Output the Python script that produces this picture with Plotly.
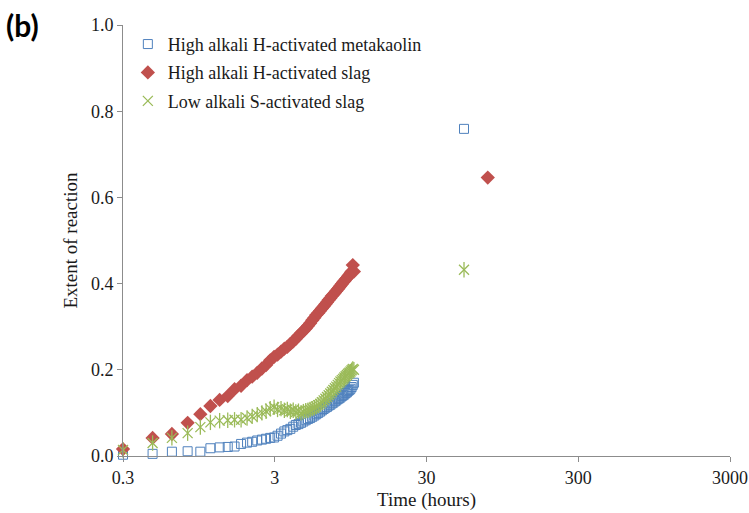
import plotly.graph_objects as go

# Time (hours) for the early-age series (readings every ~10 minutes)
early_hours = [0.30, 0.47, 0.63, 0.80, 0.97, 1.13, 1.30, 1.47, 1.63, 1.80,
               1.97, 2.13, 2.30, 2.47, 2.63, 2.80, 2.97, 3.13, 3.30, 3.47,
               3.63, 3.80, 3.97, 4.13, 4.30, 4.47, 4.63, 4.80, 4.97, 5.13,
               5.30, 5.47, 5.63, 5.80, 5.97, 6.13, 6.30, 6.47, 6.63, 6.80,
               6.97, 7.13, 7.30, 7.47, 7.63, 7.80, 7.97, 8.13, 8.30, 8.47,
               8.63, 8.80, 8.97, 9.13, 9.30, 9.47, 9.63, 9.80, 9.97]

metakaolin_early = [0.003, 0.005, 0.010, 0.011, 0.010, 0.018, 0.020, 0.021, 0.022, 0.028,
                    0.031, 0.033, 0.036, 0.038, 0.040, 0.042, 0.043, 0.047, 0.052, 0.057,
                    0.060, 0.063, 0.068, 0.072, 0.074, 0.077, 0.080, 0.083, 0.086, 0.088,
                    0.091, 0.094, 0.097, 0.100, 0.103, 0.106, 0.109, 0.112, 0.114, 0.117,
                    0.119, 0.122, 0.124, 0.127, 0.129, 0.132, 0.134, 0.136, 0.139, 0.141,
                    0.143, 0.146, 0.148, 0.151, 0.153, 0.156, 0.160, 0.165, 0.170]

h_slag_early = [0.016, 0.042, 0.051, 0.077, 0.097, 0.116, 0.130, 0.139, 0.155, 0.163,
                0.176, 0.184, 0.193, 0.203, 0.211, 0.222, 0.230, 0.235, 0.242, 0.249,
                0.253, 0.260, 0.266, 0.272, 0.279, 0.285, 0.290, 0.296, 0.302, 0.308,
                0.315, 0.321, 0.327, 0.332, 0.337, 0.342, 0.347, 0.352, 0.357, 0.362,
                0.366, 0.371, 0.375, 0.379, 0.383, 0.387, 0.391, 0.395, 0.399, 0.403,
                0.406, 0.410, 0.413, 0.417, 0.420, 0.424, 0.428, 0.443, 0.428]

s_slag_early = [0.014, 0.030, 0.042, 0.053, 0.067, 0.078, 0.082, 0.083, 0.084, 0.084,
                0.088, 0.092, 0.096, 0.100, 0.104, 0.110, 0.113, 0.108, 0.110, 0.106,
                0.108, 0.104, 0.106, 0.102, 0.104, 0.100, 0.103, 0.105, 0.106, 0.108,
                0.110, 0.112, 0.115, 0.118, 0.121, 0.125, 0.129, 0.133, 0.137, 0.141,
                0.145, 0.149, 0.153, 0.157, 0.161, 0.165, 0.169, 0.173, 0.176, 0.179,
                0.182, 0.185, 0.188, 0.191, 0.193, 0.196, 0.199, 0.202, 0.200]

# Later-age single readings
metakaolin_late_hours = [53, 3000]
metakaolin_late = [0.759, 1.0]
h_slag_late_hours = [76, 3000]
h_slag_late = [0.646, 1.0]
s_slag_late_hours = [53, 3000]
s_slag_late = [0.432, 1.0]

x_tick_vals = [0.3, 3, 30, 300, 3000]
x_tick_text = ["0.3", "3", "30", "300", "3000"]
y_tick_vals = [0.0, 0.2, 0.4, 0.6, 0.8, 1.0]

names = ["High alkali H-activated metakaolin",
         "High alkali H-activated slag",
         "Low alkali S-activated slag"]

BLUE = "#4F81BD"
RED = "#C0504D"
GREEN = "#9BBB59"
AXIS = "#8C8C8C"
FONT = "Liberation Serif"

fig = go.Figure()

fig.add_trace(go.Scatter(
    x=early_hours + metakaolin_late_hours, y=metakaolin_early + metakaolin_late,
    mode="markers", name=names[0], legendgroup="a",
    marker=dict(symbol="square-open", size=9, color=BLUE, line=dict(width=1, color=BLUE)),
    cliponaxis=False))

fig.add_trace(go.Scatter(
    x=early_hours + h_slag_late_hours, y=h_slag_early + h_slag_late,
    mode="markers", name=names[1], legendgroup="b",
    marker=dict(symbol="diamond", size=11, color=RED, line=dict(width=0)),
    cliponaxis=False))

fig.add_trace(go.Scatter(
    x=early_hours + s_slag_late_hours, y=s_slag_early + s_slag_late,
    mode="markers", name=names[2], legendgroup="c",
    marker=dict(symbol="x-thin-open", size=10, color=GREEN, line=dict(width=1.3, color=GREEN)),
    cliponaxis=False))

fig.add_trace(go.Scatter(
    x=early_hours + s_slag_late_hours, y=s_slag_early + s_slag_late,
    mode="markers", name=names[2], legendgroup="c", showlegend=False,
    marker=dict(symbol="line-ns-open", size=11, color=GREEN, line=dict(width=1.3, color=GREEN)),
    cliponaxis=False))

fig.update_layout(
    width=749, height=513,
    margin=dict(l=123, r=19, t=25, b=57),
    paper_bgcolor="white", plot_bgcolor="white",
    font=dict(family=FONT, size=18, color="#1a1a1a"),
    showlegend=True,
    legend=dict(x=0.008, y=0.998, xanchor="left", yanchor="top",
                bgcolor="rgba(0,0,0,0)", font=dict(family=FONT, size=18, color="#1a1a1a"),
                traceorder="grouped", tracegroupgap=2, itemsizing="trace"),
    xaxis=dict(type="log", range=[-0.5229, 3.4771], automargin=False,
               tickvals=x_tick_vals, ticktext=x_tick_text,
               showline=True, linecolor=AXIS, linewidth=1,
               ticks="outside", ticklen=5, tickcolor=AXIS,
               showgrid=False, zeroline=False,
               tickfont=dict(family=FONT, size=18),
               title=dict(text="Time (hours)", font=dict(family=FONT, size=19), standoff=6)),
    yaxis=dict(range=[0, 1.0], tickvals=y_tick_vals, tickformat=".1f", automargin=False,
               showline=True, linecolor=AXIS, linewidth=1,
               ticks="outside", ticklen=5, tickcolor=AXIS,
               showgrid=False, zeroline=False,
               tickfont=dict(family=FONT, size=18),
               title=dict(text="Extent of reaction", font=dict(family=FONT, size=19), standoff=8)),
    annotations=[dict(text="<b>(b)</b>", xref="paper", yref="paper",
                      x=-0.196, y=1.0, xanchor="left", yanchor="middle",
                      showarrow=False, font=dict(family="Lato", size=30, color="black"))],
)

fig.write_html("out.html")
